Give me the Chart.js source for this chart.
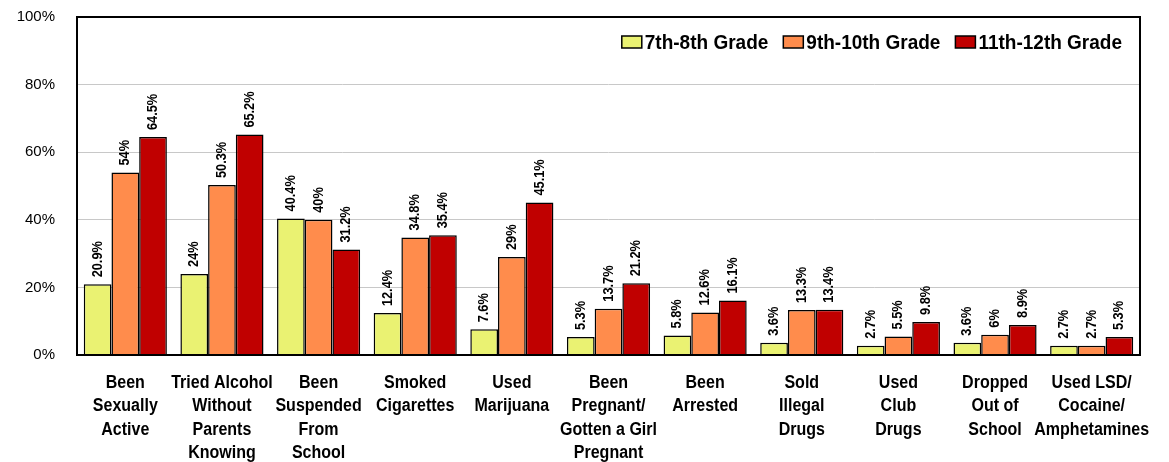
<!DOCTYPE html>
<html>
<head>
<meta charset="utf-8">
<script src="https://cdn.jsdelivr.net/npm/chart.js@4"></script>
<style>
  html, body { margin: 0; padding: 0; background: #fff; }
  #wrap { width: 1169px; height: 462px; }
</style>
</head>
<body>
<div id="wrap"><canvas id="riskChart"></canvas></div>
<script>
// ===== Data =====
const categories = [
  ["Been", "Sexually", "Active"],
  ["Tried Alcohol", "Without", "Parents", "Knowing"],
  ["Been", "Suspended", "From", "School"],
  ["Smoked", "Cigarettes"],
  ["Used", "Marijuana"],
  ["Been", "Pregnant/", "Gotten a Girl", "Pregnant"],
  ["Been", "Arrested"],
  ["Sold", "Illegal", "Drugs"],
  ["Used", "Club", "Drugs"],
  ["Dropped", "Out of", "School"],
  ["Used LSD/", "Cocaine/", "Amphetamines"]
];
const grade78 = [20.9, 24, 40.4, 12.4, 7.6, 5.3, 5.8, 3.6, 2.7, 3.6, 2.7];
const grade910 = [54, 50.3, 40, 34.8, 29, 13.7, 12.6, 13.3, 5.5, 6, 2.7];
const grade1112 = [64.5, 65.2, 31.2, 35.4, 45.1, 21.2, 16.1, 13.4, 9.8, 8.9, 5.3];
const yTicks = [0, 20, 40, 60, 80, 100];

// no narrow face installed, so bold Liberation Sans gets squeezed horizontally
const SANS = '"Liberation Sans", Arial, sans-serif';

function squeezedText(ctx, text, x, y, sx) {
  ctx.save();
  ctx.translate(x, y);
  ctx.scale(sx, 1);
  ctx.fillText(text, 0, 0);
  ctx.restore();
}

// ===== Category labels under the x axis =====
const categoryLabels = {
  id: 'categoryLabels',
  afterDraw(chart) {
    const ctx = chart.ctx;
    const xs = chart.scales.x;
    ctx.save();
    ctx.font = 'bold 18px ' + SANS;
    ctx.fillStyle = '#000';
    ctx.textAlign = 'center';
    ctx.textBaseline = 'middle';
    chart.data.labels.forEach((lines, i) => {
      const x = xs.getPixelForValue(i);
      lines.forEach((line, k) =>
        squeezedText(ctx, line, x, chart.chartArea.bottom + 28 + k * 23.5, 0.89));
    });
    ctx.restore();
  }
};

// ===== Value labels, rotated above each bar =====
const valueLabels = {
  id: 'valueLabels',
  afterDatasetsDraw(chart) {
    const ctx = chart.ctx;
    ctx.save();
    ctx.font = 'bold 14.5px ' + SANS;
    ctx.fillStyle = '#000';
    ctx.textAlign = 'left';
    ctx.textBaseline = 'middle';
    chart.data.datasets.forEach((ds, i) => {
      chart.getDatasetMeta(i).data.forEach((bar, j) => {
        ctx.save();
        ctx.translate(bar.x, bar.y - 7);
        ctx.rotate(-Math.PI / 2);
        ctx.scale(0.88, 1);
        ctx.fillText(ds.data[j] + '%', 0, 0);
        ctx.restore();
      });
    });
    ctx.restore();
  }
};

// ===== Frame around the plot + legend inside it =====
const frameAndLegend = {
  id: 'frameAndLegend',
  afterDraw(chart) {
    const { ctx, chartArea: a } = chart;
    ctx.save();
    ctx.strokeStyle = '#000';
    ctx.lineWidth = 2;
    ctx.strokeRect(a.left, a.top, a.right - a.left, a.bottom - a.top);

    const sx = 0.95;
    ctx.font = 'bold 20px ' + SANS;
    ctx.textBaseline = 'middle';
    ctx.textAlign = 'left';
    const boxW = 20, boxH = 12, gapBox = 3, gapItem = 15;
    const y = a.top + 25;
    let x = a.right - 18;
    chart.data.datasets.slice().reverse().forEach(ds => {
      x -= ctx.measureText(ds.label).width * sx;
      ctx.fillStyle = '#000';
      squeezedText(ctx, ds.label, x, y + 1, sx);
      x -= gapBox + boxW;
      ctx.fillStyle = ds.backgroundColor;
      ctx.fillRect(x, y - boxH / 2, boxW, boxH);
      ctx.lineWidth = 1.5;
      ctx.strokeRect(x, y - boxH / 2, boxW, boxH);
      x -= gapItem;
    });
    ctx.restore();
  }
};

new Chart(document.getElementById('riskChart'), {
  type: 'bar',
  data: {
    labels: categories,
    datasets: [
      { label: '7th-8th Grade', data: grade78, backgroundColor: '#EAF272' },
      { label: '9th-10th Grade', data: grade910, backgroundColor: '#FF8C4C' },
      { label: '11th-12th Grade', data: grade1112, backgroundColor: '#C00000' }
    ]
  },
  options: {
    responsive: true,
    maintainAspectRatio: false,
    animation: false,
    layout: { padding: { top: 17, right: 29, left: 0, bottom: 0 } },
    datasets: {
      bar: {
        borderColor: '#000',
        borderWidth: 1.5,
        barPercentage: 1.0,
        categoryPercentage: 0.86
      }
    },
    plugins: {
      legend: { display: false },
      tooltip: { enabled: false }
    },
    scales: {
      x: {
        grid: { display: false },
        border: { display: false },
        ticks: { display: false },
        afterFit: s => { s.height = 107; }
      },
      y: {
        min: 0,
        max: 100,
        afterBuildTicks: s => { s.ticks = yTicks.map(v => ({ value: v })); },
        grid: { color: '#c8c8c8', lineWidth: 1, drawTicks: false },
        border: { display: false },
        ticks: {
          color: '#000',
          padding: 22,
          font: { family: SANS, size: 15 },
          callback: v => v + '%'
        },
        // tick padding is horizontal here; keep it out of the vertical room
        afterFit: s => { s.width = 77; s.paddingTop = 9; s.paddingBottom = 9; }
      }
    }
  },
  plugins: [valueLabels, categoryLabels, frameAndLegend]
});
</script>
</body>
</html>
